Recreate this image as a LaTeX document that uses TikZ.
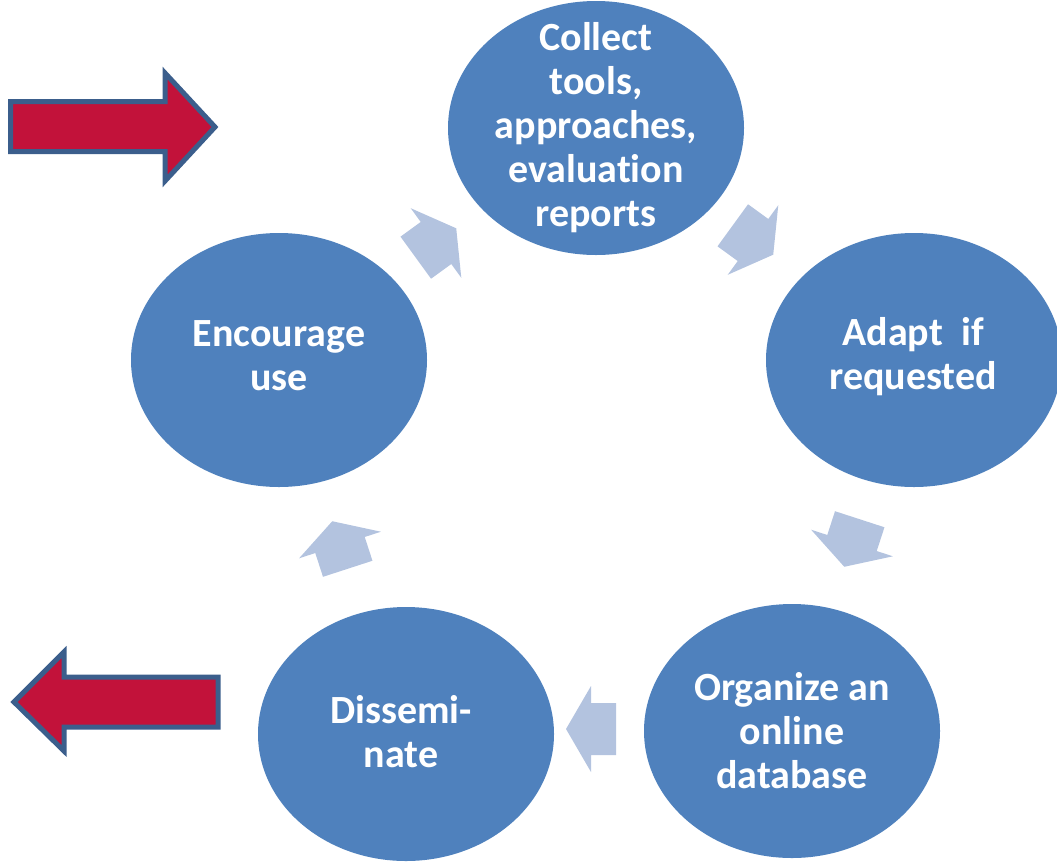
\documentclass[tikz,border=0pt]{standalone}
\usepackage{fontspec}
\setmainfont{Carlito}[Ligatures=NoCommon]
\usepackage{tikz}
\usetikzlibrary{shapes.geometric}
\definecolor{stageblue}{HTML}{4F81BD}
\definecolor{cyclelight}{HTML}{B3C3DF}
\definecolor{bigred}{HTML}{C2123A}
\definecolor{bigedge}{HTML}{3B5E8C}
\tikzstyle{stage}=[ellipse, fill=stageblue, inner sep=0pt, minimum width=296pt, minimum height=254pt]
\tikzstyle{stagetxt}=[text=white, align=center, font=\fontsize{40}{44}\selectfont\bfseries]
\tikzstyle{bigarrow}=[fill=bigred, draw=bigedge, line width=5pt, line join=miter]
\tikzset{cycarrow/.pic={
	\fill[cyclelight] (-25,-26) -- (0,-26) -- (0,-43) -- (25,0) -- (0,43) -- (0,26) -- (-25,26) -- cycle;
}}

\begin{document}
\begin{tikzpicture}[x=1pt,y=-1pt]
\useasboundingbox (0,0) rectangle (1057,865);
% the five stages
\node[stage] (col) at (596,128) {};
\node[stage] (adp) at (914,360) {};
\node[stage] (org) at (792,731) {};
\node[stage] (dis) at (406,734) {};
\node[stage] (enc) at (279,360) {};
\node[stagetxt] (col-t) at (col) {Collect\\tools,\\approaches,\\evaluation\\reports};
\node[stagetxt] (adp-t) at (913,357) {Adapt\ \ if\\requested};
\node[stagetxt] (org-t) at (org) {Organize an\\online\\database};
\node[stagetxt] (dis-t) at (401,732) {Dissemi-\\nate};
\node[stagetxt] (enc-t) at (279,356) {Encourage\\use};
% arrows of the cycle
\coordinate (a1) at (436,243);
\coordinate (a2) at (753,240);
\coordinate (a3) at (852,543);
\coordinate (a4) at (591,729);
\coordinate (a5) at (340,545);
\pic[rotate=36] at (a1) {cycarrow};
\pic[rotate=-36] at (a2) {cycarrow};
\pic[rotate=-108] at (a3) {cycarrow};
\pic[rotate=180] at (a4) {cycarrow};
\pic[rotate=108] at (a5) {cycarrow};
% in and out
\draw[bigarrow] (10.5,101.5) -- (165,101.5) -- (165,73) -- (215,127) -- (165,181) -- (165,151.5) -- (10.5,151.5) -- cycle;
\draw[bigarrow] (218,677) -- (64,677) -- (64,652) -- (14,702) -- (64,751) -- (64,727) -- (218,727) -- cycle;
\end{tikzpicture}
\end{document}
